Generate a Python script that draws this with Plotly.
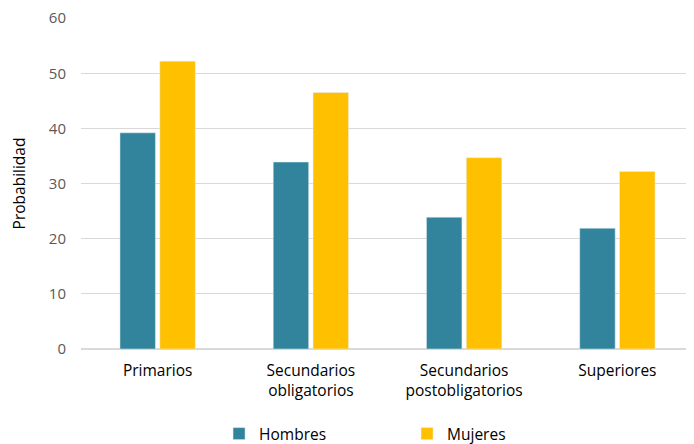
import plotly.graph_objects as go

categories = ["Primarios", "Secundarios<br>obligatorios", "Secundarios<br>postobligatorios", "Superiores"]
hombres = [39.2, 33.9, 23.9, 21.9]
mujeres = [52.2, 46.5, 34.7, 32.2]

FONT = "Open Sans, Lato, sans-serif"

fig = go.Figure()
fig.add_trace(go.Bar(name="Hombres", x=categories, y=hombres, marker_color="#31849B"))
fig.add_trace(go.Bar(name="Mujeres", x=categories, y=mujeres, marker_color="#FFC000"))

fig.update_layout(
    width=694, height=444,
    margin=dict(l=73, r=8, t=10, b=103, autoexpand=False),
    plot_bgcolor="white", paper_bgcolor="white",
    barmode="group", bargap=0.48, bargroupgap=0.11,
    font=dict(family=FONT, size=14, color="#595959"),
    legend=dict(orientation="h", x=0.575, xanchor="center", xref="container",
                y=0.0405, yanchor="middle", yref="container",
                entrywidth=143, font=dict(size=15.5, color="#000000")),
    showlegend=True,
)
fig.update_yaxes(range=[0, 60.02], tickvals=[0, 10, 20, 30, 40, 50, 60], showgrid=True,
                 gridcolor="#D9D9D9", gridwidth=1, ticklabeloverflow="allow",
                 zeroline=True, zerolinecolor="#D9D9D9", ticks="", showline=False, automargin=False,
                 title=dict(text="Probabilidad", font=dict(size=15.5, color="#000000"), standoff=21),
                 tickfont=dict(size=15, color="#595959"), ticklabelstandoff=14)
fig.update_xaxes(showline=False, ticks="", automargin=False, ticklabelstandoff=10,
                 tickfont=dict(size=15.5, color="#000000"))

fig.write_html("out.html")
